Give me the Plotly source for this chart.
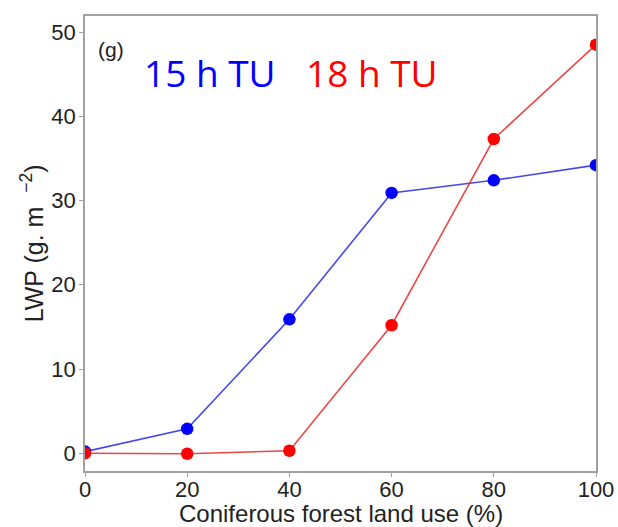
import plotly.graph_objects as go

# Coniferous forest land use (%) and liquid water path (g m^-2)
land_use = [0, 20, 40, 60, 80, 100]
lwp_15h = [0.2, 2.9, 15.9, 30.9, 32.4, 34.2]
lwp_18h = [0.0, -0.05, 0.3, 15.2, 37.3, 48.5]

x_ticks = [0, 20, 40, 60, 80, 100]
y_ticks = [0, 10, 20, 30, 40, 50]

BLUE = "#0000ff"
RED = "#ff0000"
FONT = "Liberation Sans, Arial"

fig = go.Figure()
fig.add_trace(go.Scatter(
    x=land_use, y=lwp_15h, mode="lines+markers",
    line=dict(color="rgba(40,40,230,0.85)", width=1.6),
    marker=dict(color=BLUE, size=12.5), showlegend=False,
))
fig.add_trace(go.Scatter(
    x=land_use, y=lwp_18h, mode="lines+markers",
    line=dict(color="rgba(230,40,40,0.85)", width=1.6),
    marker=dict(color=RED, size=12.5), showlegend=False,
))

axis_common = dict(
    showgrid=False, zeroline=False, showline=True, mirror=True,
    linecolor="#a0a0a0", linewidth=1.5, automargin=False,
    ticks="outside", ticklen=4, tickcolor="#a0a0a0",
    tickfont=dict(family=FONT, size=22, color="#222"),
)

fig.update_layout(
    width=618, height=527,
    margin=dict(l=85, r=22, t=16, b=56, autoexpand=False),
    plot_bgcolor="white", paper_bgcolor="white",
    xaxis=dict(range=[0, 100], tickvals=x_ticks, ticklabelstandoff=-6,
               **axis_common),
    yaxis=dict(range=[-2.1, 51.9], tickvals=y_ticks, ticklabelstandoff=-1,
               **axis_common),
    annotations=[
        # axis titles
        dict(text="Coniferous forest land use (%)", x=0.5, y=-0.093,
             xref="paper", yref="paper", xanchor="center", yanchor="middle",
             showarrow=False, font=dict(family=FONT, size=24, color="#222")),
        dict(text="LWP (g. m&nbsp;&nbsp;<sup>−2</sup>)", x=-0.104, y=0.50,
             xref="paper", yref="paper", xanchor="center", yanchor="middle",
             textangle=-90, showarrow=False,
             font=dict(family=FONT, size=25, color="#222")),
        # panel label and series labels
        dict(text="(g)", x=0.0215, y=0.956, xref="paper", yref="paper",
             xanchor="left", yanchor="top", showarrow=False,
             font=dict(family=FONT, size=21, color="#222")),
        dict(text="15 h TU", x=0.245, y=0.875, xref="paper", yref="paper",
             xanchor="center", yanchor="middle", showarrow=False,
             font=dict(family="Open Sans", size=37, color=BLUE)),
        dict(text="18 h TU", x=0.562, y=0.875, xref="paper", yref="paper",
             xanchor="center", yanchor="middle", showarrow=False,
             font=dict(family="Open Sans", size=37, color=RED)),
    ],
)

fig.write_html("out.html")
